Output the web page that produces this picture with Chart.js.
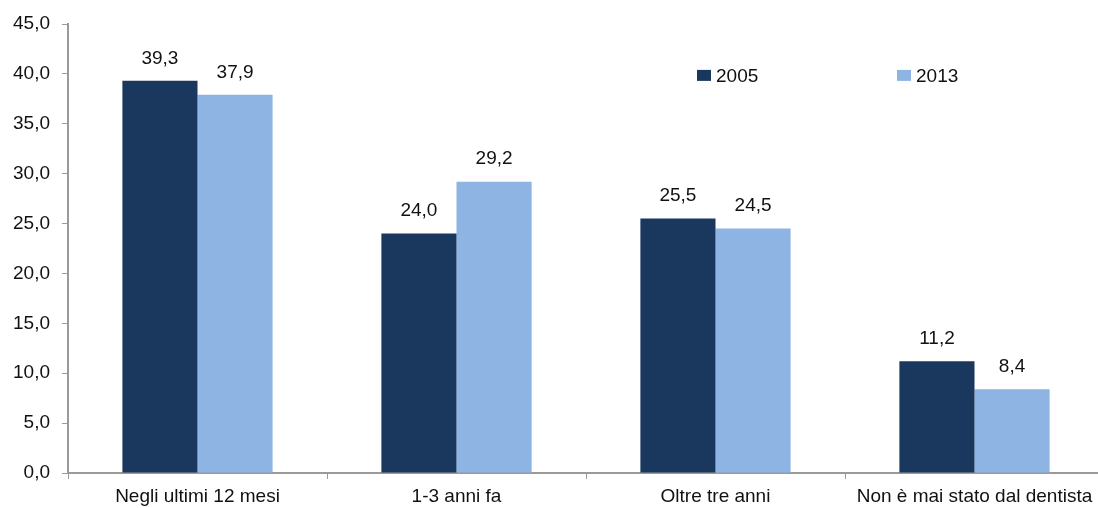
<!DOCTYPE html>
<html>
<head>
<meta charset="utf-8">
<script src="https://cdn.jsdelivr.net/npm/chart.js@4/dist/chart.umd.min.js"></script>
<style>
  html, body { margin: 0; padding: 0; background: #fff; overflow: hidden; }
  #wrap { width: 1106px; height: 508px; position: relative; }
</style>
</head>
<body>
<div id="wrap"><canvas id="chart"></canvas></div>
<script>
(function () {
    'use strict';

    var categories = ['Negli ultimi 12 mesi', '1-3 anni fa', 'Oltre tre anni', 'Non è mai stato dal dentista'];
    var values2005 = [39.3, 24.0, 25.5, 11.2];
    var values2013 = [37.9, 29.2, 24.5, 8.4];
    var seriesNames = ['2005', '2013'];
    var yTicks = [0, 5, 10, 15, 20, 25, 30, 35, 40, 45];

    var FONT = '"Liberation Sans", Arial, sans-serif';
    var DARK = '#1a375d';
    var LIGHT = '#8eb4e3';
    var AXIS = '#9a9a9a';

    function comma(v) {
        return Number(v).toFixed(1).replace('.', ',');
    }

    // value labels above every bar
    var barLabels = {
        id: 'barLabels',
        afterDatasetsDraw: function (chart) {
            var ctx = chart.ctx;
            ctx.save();
            ctx.font = '19px ' + FONT;
            ctx.fillStyle = '#111';
            ctx.textAlign = 'center';
            ctx.textBaseline = 'bottom';
            chart.data.datasets.forEach(function (ds, i) {
                chart.getDatasetMeta(i).data.forEach(function (bar, j) {
                    ctx.fillText(comma(ds.data[j]), bar.x, bar.y - 13);
                });
            });
            ctx.restore();
        }
    };

    // legend laid out inside the plot, to the right
    var insideLegend = {
        id: 'insideLegend',
        afterDraw: function (chart) {
            var ctx = chart.ctx;
            var y = chart.scales.y.getPixelForValue(40) + 2;
            var xs = [697, 897];
            ctx.save();
            ctx.font = '19px ' + FONT;
            ctx.textBaseline = 'middle';
            ctx.textAlign = 'left';
            chart.data.datasets.forEach(function (ds, i) {
                ctx.fillStyle = ds.backgroundColor;
                ctx.fillRect(xs[i], y - 6, 14, 11);
                ctx.fillStyle = '#111';
                ctx.fillText(ds.label, xs[i] + 19, y + 1);
            });
            ctx.restore();
        }
    };

    new Chart(document.getElementById('chart'), {
        type: 'bar',
        data: {
            labels: categories,
            datasets: [
                { label: seriesNames[0], data: values2005, backgroundColor: DARK },
                { label: seriesNames[1], data: values2013, backgroundColor: LIGHT }
            ]
        },
        options: {
            responsive: true,
            maintainAspectRatio: false,
            animation: false,
            datasets: {
                bar: { categoryPercentage: 0.58, barPercentage: 1.0 }
            },
            layout: { padding: { top: 24, right: 2, left: 0, bottom: 0 } },
            plugins: {
                legend: { display: false },
                tooltip: { enabled: false }
            },
            scales: {
                x: {
                    grid: {
                        offset: true,
                        drawOnChartArea: false,
                        drawTicks: true,
                        tickLength: 6,
                        color: AXIS
                    },
                    border: { color: AXIS, width: 2 },
                    ticks: {
                        color: '#111',
                        font: { family: FONT, size: 19 },
                        padding: 6,
                        maxRotation: 0,
                        autoSkip: false
                    },
                    afterFit: function (scale) { scale.height = 35; }
                },
                y: {
                    min: 0,
                    max: 45,
                    afterBuildTicks: function (scale) {
                        scale.ticks = yTicks.map(function (v) { return { value: v }; });
                    },
                    grid: {
                        drawOnChartArea: false,
                        drawTicks: true,
                        tickLength: 6,
                        color: AXIS
                    },
                    border: { color: AXIS, width: 2 },
                    ticks: {
                        color: '#111',
                        font: { family: FONT, size: 19 },
                        padding: 12,
                        callback: function (v) { return comma(v); }
                    },
                    afterFit: function (scale) { scale.width = 68; }
                }
            }
        },
        plugins: [barLabels, insideLegend]
    });
})();
</script>
</body>
</html>
